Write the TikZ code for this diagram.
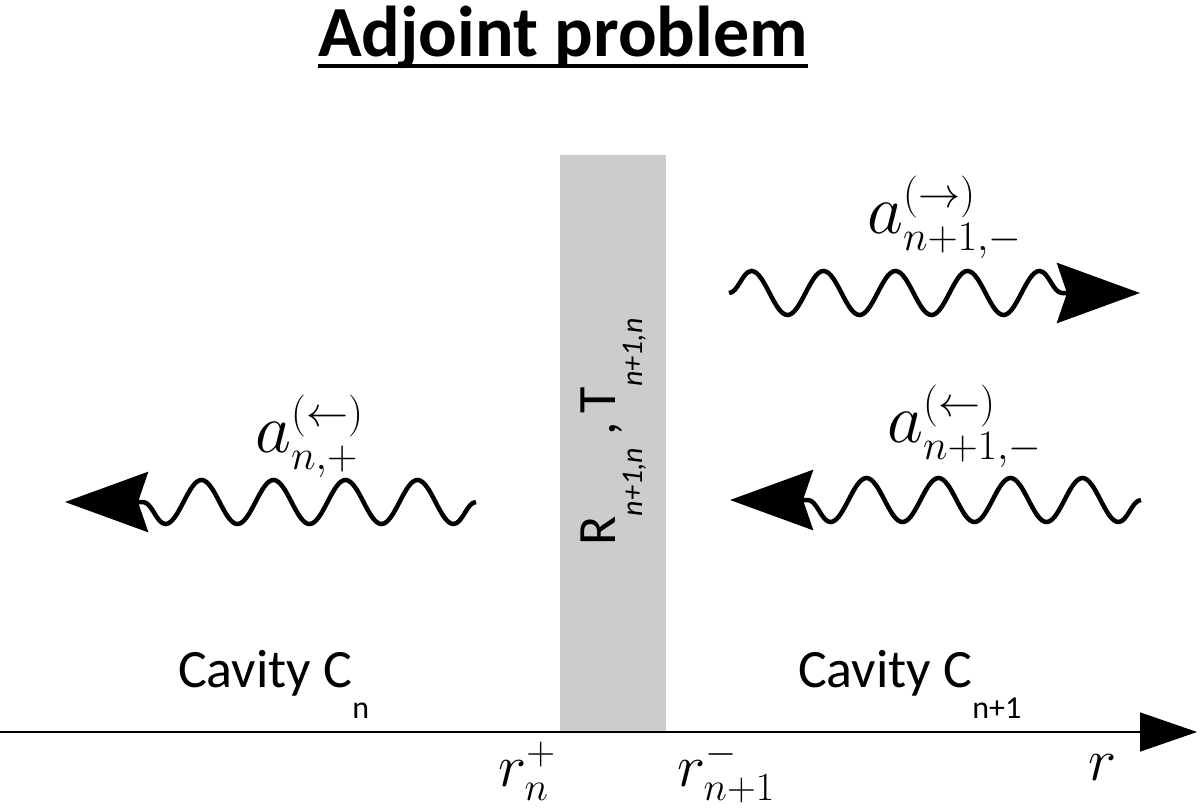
\RequirePackage{fix-cm}
\documentclass[tikz,border=0pt]{standalone}
\usepackage[no-math]{fontspec}
\newfontfamily\carlito{Carlito}
\DeclareMathSizes{70}{70}{42}{30}
\DeclareMathSizes{60}{60}{40}{30}
\usetikzlibrary{arrows.meta,decorations.pathmorphing}
\definecolor{barriergray}{RGB}{204,204,204}
% lowered subscript for the sans labels
\newcommand{\lowsub}[3]{\raisebox{-#1pt}{\fontsize{#2}{#2}\selectfont #3}}
\tikzset{
  wavy/.style={line width=4.5pt, decorate,
    decoration={snake, amplitude=22pt, segment length=72pt, post length=78pt},
    -{Stealth[length=83pt,width=60pt,inset=10pt]}},
  amp/.style={inner sep=0pt, anchor=base west, font=\fontsize{70}{80}\selectfont},
  rlbl/.style={inner sep=0pt, anchor=base west, font=\fontsize{60}{70}\selectfont},
  cav/.style={inner sep=0pt, anchor=base west, font=\carlito\fontsize{54}{60}\selectfont},
}
\begin{document}
\begin{tikzpicture}[x=1pt,y=-1pt]
\useasboundingbox (0,0) rectangle (1200,808);

% title
\node[inner sep=0pt, anchor=base, font=\carlito\bfseries\fontsize{72}{80}\selectfont] (title) at (563,57) {Adjoint problem};
\draw[line width=4pt] ([yshift=-9pt]title.base west) -- ([yshift=-9pt]title.base east);

% barrier
\fill[barriergray] (560,155) rectangle (666,732);
\node[rotate=90, anchor=base, inner sep=0pt, font=\carlito\fontsize{54}{60}\selectfont] (coef) at (615,432)
  {R\lowsub{27}{30}{\itshape n+1,n}\hspace{12pt},\hspace{9pt}T\lowsub{27}{30}{\itshape n+1,n}};

% r axis
\coordinate (r0) at (0,732);
\coordinate (r1) at (1197,732);
\draw[line width=1.6pt, -{Triangle[length=57pt,width=39pt]}] (r0) -- (r1);
\node[rlbl] (rn) at (498,786) {$r_n^+$};
\node[rlbl] (rn1) at (677,786) {$r_{n+1}^-$};
\node[rlbl] (r) at (1088,780) {$r$};

% cavities
\node[cav] (cn) at (178,687) {Cavity C\lowsub{31}{32}{n}};
\node[cav] (cn1) at (798,687) {Cavity C\lowsub{31}{32}{n+1}};

% waves
\coordinate (wa) at (729,293);
\coordinate (wb) at (1140,293);
\draw[wavy] (wa) -- (wb);
\coordinate (wc) at (476,502);
\coordinate (wd) at (65,502);
\draw[wavy] (wc) -- (wd);
\coordinate (we) at (1141,500);
\coordinate (wf) at (730,500);
\draw[wavy] (we) -- (wf);

\node[amp] (aout) at (867,233) {$a^{(\rightarrow)}_{n+1,-}$};
\node[amp] (ain) at (255,452) {$a^{(\leftarrow)}_{n,+}$};
\node[amp] (ain1) at (887,442) {$a^{(\leftarrow)}_{n+1,-}$};

\end{tikzpicture}
\end{document}
